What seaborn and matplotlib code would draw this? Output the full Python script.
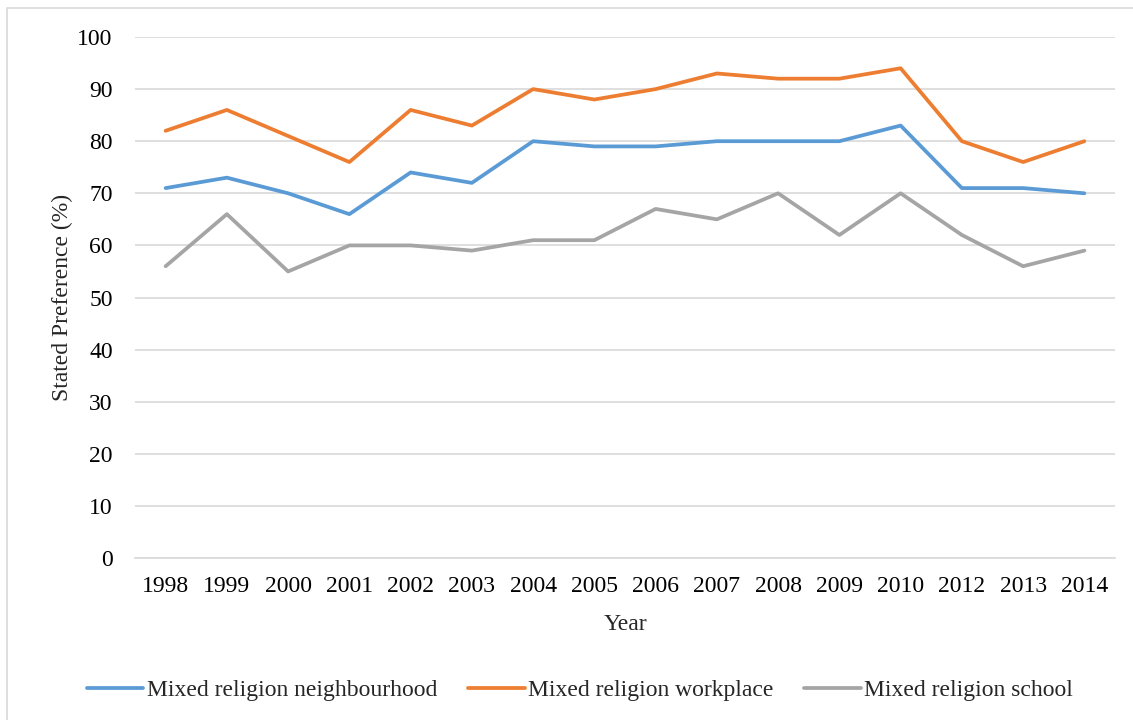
import matplotlib
matplotlib.use("Agg")
import matplotlib.pyplot as plt
import seaborn as sns
import pandas as pd
from matplotlib.patches import Rectangle

# === Data ===
years = ["1998", "1999", "2000", "2001", "2002", "2003", "2004", "2005",
         "2006", "2007", "2008", "2009", "2010", "2012", "2013", "2014"]
neighbourhood = [71, 73, 70, 66, 74, 72, 80, 79, 79, 80, 80, 80, 83, 71, 71, 70]
workplace = [82, 86, 81, 76, 86, 83, 90, 88, 90, 93, 92, 92, 94, 80, 76, 80]
school = [56, 66, 55, 60, 60, 59, 61, 61, 67, 65, 70, 62, 70, 62, 56, 59]
series_names = ["Mixed religion neighbourhood", "Mixed religion workplace", "Mixed religion school"]
colors = ["#5B9BD5", "#ED7D31", "#A5A5A5"]

df = pd.concat([
    pd.DataFrame({"Year": years, "Value": vals, "Series": name})
    for name, vals in zip(series_names, [neighbourhood, workplace, school])
])

# === Plot ===
sns.set_style("white")
plt.rcParams['font.family'] = ['Liberation Serif', 'DejaVu Serif']
fs = 17

fig = plt.figure(figsize=(11.33, 7.2), dpi=100)
ax = fig.add_axes([135 / 1133, 1 - 558 / 720, (1115 - 135) / 1133, (558 - 37) / 720])

sns.lineplot(data=df, x="Year", y="Value", hue="Series", palette=colors,
             linewidth=2.7, ax=ax, sort=False)

ax.set_xlim(-0.5, len(years) - 0.5)
ax.set_ylim(0, 100)
ax.set_yticks(range(0, 101, 10))
ax.yaxis.grid(True, color="#D9D9D9", linewidth=1.2)
ax.set_axisbelow(True)
for s in ["top", "right", "left"]:
    ax.spines[s].set_visible(False)
ax.spines["bottom"].set_color("#D9D9D9")
ax.spines["bottom"].set_linewidth(1.2)
ax.tick_params(axis="both", length=0, labelsize=fs, colors="black")
ax.tick_params(axis="y", pad=16)
ax.tick_params(axis="x", pad=13)

ax.set_xlabel("Year", fontsize=fs, labelpad=12)
ax.set_ylabel("Stated Preference (%)", fontsize=fs, labelpad=3)

ax.legend(loc="center", bbox_to_anchor=(580 / 1133, 1 - 690 / 720),
          bbox_transform=fig.transFigure,
          ncol=3, frameon=False, fontsize=fs, handlelength=2.4,
          handletextpad=0.15, columnspacing=1.3)

# chart area border
fig.patches.append(Rectangle((7 / 1133, -0.1), 1.2, 1 - 8 / 720 + 0.1,
                             transform=fig.transFigure, fill=False,
                             edgecolor="#D9D9D9", linewidth=1.2))

fig.savefig("out.png", dpi=100)
